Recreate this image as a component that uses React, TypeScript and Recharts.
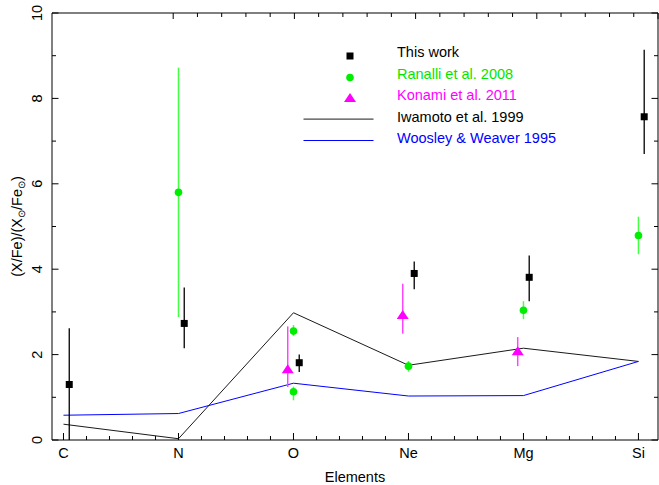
import React from 'react';
import { ComposedChart, Line, Scatter, XAxis, YAxis, ErrorBar, Legend } from 'recharts';

// ---- categories / ticks ----
const elementNames = ['C', 'N', 'O', 'Ne', 'Mg', 'Si'];
const elementPos = [1, 2, 3, 4, 5, 6];
const xTicks = [1, 1.2, 1.4, 1.6, 1.8, 2, 2.2, 2.4, 2.6, 2.8, 3, 3.2, 3.4, 3.6, 3.8, 4, 4.2, 4.4, 4.6, 4.8, 5, 5.2, 5.4, 5.6, 5.8, 6];
const yTicks = [0, 1, 2, 3, 4, 5, 6, 7, 8, 9, 10];
const yMajorTicks = [0, 2, 4, 6, 8, 10];

// ---- This work (black squares) ----
const thisWorkX = [1.05, 2.05, 3.05, 4.05, 5.05, 6.05];
const thisWorkY = [1.3, 2.73, 1.81, 3.9, 3.81, 7.57];
const thisWorkLow = [0, 2.15, 1.59, 3.53, 3.25, 6.7];
const thisWorkHigh = [2.62, 3.57, 2.0, 4.18, 4.32, 9.14];

// ---- Ranalli et al. 2008 (green circles) ----
const ranalliX = [2, 3, 3, 4, 5, 6];
const ranalliY = [5.8, 2.55, 1.13, 1.73, 3.04, 4.79];
const ranalliLow = [2.88, 2.44, 0.93, 1.6, 2.83, 4.35];
const ranalliHigh = [8.72, 2.69, 1.25, 1.85, 3.25, 5.23];

// ---- Konami et al. 2011 (magenta triangles) ----
const konamiX = [2.95, 3.95, 4.95];
const konamiY = [1.67, 2.94, 2.09];
const konamiLow = [1.24, 2.49, 1.73];
const konamiHigh = [2.66, 3.66, 2.41];

// ---- models ----
const iwamoto = [0.37, 0.03, 2.98, 1.75, 2.15, 1.84];
const woosley = [0.58, 0.62, 1.33, 1.03, 1.04, 1.84];

const legendNames = ['This work', 'Ranalli et al. 2008', 'Konami et al. 2011', 'Iwamoto et al. 1999', 'Woosley & Weaver 1995'];
const legendColors = ['#000000', '#00e600', '#ff00ff', '#000000', '#0000ff'];

const FONT = '"Liberation Sans", Arial, Helvetica, sans-serif';

const makePoints = (xs: number[], ys: number[], lo: number[], hi: number[]) =>
  xs.map((x, i) => ({ x, y: ys[i], err: [ys[i] - lo[i], hi[i] - ys[i]] }));

const thisWorkData = makePoints(thisWorkX, thisWorkY, thisWorkLow, thisWorkHigh);
const ranalliData = makePoints(ranalliX, ranalliY, ranalliLow, ranalliHigh);
const konamiData = makePoints(konamiX, konamiY, konamiLow, konamiHigh);
const modelData = elementPos.map((x, i) => ({ x, iwamoto: iwamoto[i], woosley: woosley[i] }));

const isInt = (v: number) => Math.abs(v - Math.round(v)) < 1e-6;

const BottomTick = (props: any) => {
  const { x, y, payload } = props;
  const v = payload.value;
  const major = isInt(v);
  const idx = elementPos.indexOf(Math.round(v));
  return (
    <g>
      <line x1={x} x2={x} y1={y} y2={y - (major ? 7 : 4)} stroke="#000" strokeWidth={1} />
      {major && idx >= 0 && (
        <text x={x} y={y + 18} textAnchor="middle" fontSize={14.5} fontFamily={FONT} fill="#000">
          {elementNames[idx]}
        </text>
      )}
    </g>
  );
};

const TopTick = (props: any) => {
  const { x, y, payload } = props;
  const major = isInt(payload.value);
  return <line x1={x} x2={x} y1={y} y2={y + (major ? 6 : 4)} stroke="#000" strokeWidth={1} />;
};

const LeftTick = (props: any) => {
  const { x, y, payload } = props;
  const v = payload.value;
  const major = yMajorTicks.indexOf(v) >= 0;
  const lx = x - 15;
  return (
    <g>
      <line x1={x} x2={x + (major ? 6.5 : 4)} y1={y} y2={y} stroke="#000" strokeWidth={1} />
      {major && (
        <text
          transform={`rotate(-90 ${lx} ${y})`}
          x={lx}
          y={y}
          textAnchor="middle"
          dominantBaseline="central"
          fontSize={14.5}
          fontFamily={FONT}
          fill="#000"
        >
          {v}
        </text>
      )}
    </g>
  );
};

const RightTick = (props: any) => {
  const { x, y, payload } = props;
  const major = yMajorTicks.indexOf(payload.value) >= 0;
  return <line x1={x} x2={x - (major ? 6.5 : 4)} y1={y} y2={y} stroke="#000" strokeWidth={1} />;
};

const YLabel = (props: any) => {
  const vb = props.viewBox || { x: 0, y: 13, width: 52, height: 427 };
  const cx = 17;
  const cy = vb.y + vb.height / 2;
  return (
    <text
      transform={`rotate(-90 ${cx} ${cy})`}
      x={cx}
      y={cy}
      textAnchor="middle"
      dominantBaseline="central"
      fontSize={14.5}
      fontFamily={FONT}
      fill="#000"
    >
      (X/Fe)/(X
      <tspan fontSize={10} dy={4}>⊙</tspan>
      <tspan dy={-4}>/Fe</tspan>
      <tspan fontSize={10} dy={4}>⊙</tspan>
      <tspan dy={-4}>)</tspan>
    </text>
  );
};

const SquareShape = (props: any) => {
  const { cx, cy } = props;
  if (cx == null || cy == null) return null;
  return <rect x={cx - 3.5} y={cy - 3.5} width={7} height={7} fill="#000" />;
};

const CircleShape = (props: any) => {
  const { cx, cy } = props;
  if (cx == null || cy == null) return null;
  return <circle cx={cx} cy={cy} r={3.8} fill="#00ee00" />;
};

const TriangleShape = (props: any) => {
  const { cx, cy } = props;
  if (cx == null || cy == null) return null;
  return <polygon points={`${cx - 6},${cy + 4.5} ${cx + 6},${cy + 4.5} ${cx},${cy - 4.5}`} fill="#ff00ff" />;
};

const LegendBox = () => {
  const baselines = [19, 40.5, 62, 83.5, 105];
  const mx = 50;
  return (
    <svg width={300} height={115} style={{ display: 'block' }}>
      <rect x={mx - 3.5} y={baselines[0] - 4.5} width={7} height={7} fill="#000" />
      <circle cx={mx} cy={baselines[1] - 1} r={3.8} fill="#00ee00" />
      <polygon
        points={`${mx - 6},${baselines[2] + 2} ${mx + 6},${baselines[2] + 2} ${mx},${baselines[2] - 7}`}
        fill="#ff00ff"
      />
      <line x1={3.5} x2={73.5} y1={baselines[3] - 2.4} y2={baselines[3] - 2.4} stroke="#1a1a1a" strokeWidth={1} />
      <line x1={3.5} x2={73.5} y1={baselines[4] - 2.5} y2={baselines[4] - 2.5} stroke="#0000ff" strokeWidth={1} />
      {legendNames.map((n, i) => (
        <text key={n} x={97} y={baselines[i]} fontSize={14.5} fontFamily={FONT} fill={legendColors[i]}>
          {n}
        </text>
      ))}
    </svg>
  );
};

export default function App() {
  return (
    <div style={{ position: 'absolute', left: 0, top: 0, width: 659, height: 485, background: '#fff' }}>
      <ComposedChart width={659} height={485} data={modelData} margin={{ top: 0, right: 0, bottom: 0, left: 0 }}>
        <XAxis
          dataKey="x"
          type="number"
          domain={[0.9, 6.17]}
          allowDataOverflow
          ticks={xTicks}
          interval={0}
          tick={<BottomTick />}
          tickLine={false}
          tickSize={0}
          tickMargin={0}
          axisLine={{ stroke: '#000', strokeWidth: 1 }}
          height={45}
          label={{ value: 'Elements', position: 'insideBottom', offset: 3, fontSize: 14.5, fontFamily: FONT, fill: '#000' }}
        />
        <XAxis
          xAxisId="top"
          orientation="top"
          type="number"
          domain={[0.9, 6.17]}
          allowDataOverflow
          ticks={xTicks}
          interval={0}
          tick={<TopTick />}
          tickLine={false}
          tickSize={0}
          tickMargin={0}
          axisLine={{ stroke: '#000', strokeWidth: 1 }}
          height={13}
        />
        <YAxis
          type="number"
          domain={[0, 10]}
          allowDataOverflow
          ticks={yTicks}
          interval={0}
          tick={<LeftTick />}
          tickLine={false}
          tickSize={0}
          tickMargin={0}
          axisLine={{ stroke: '#000', strokeWidth: 1 }}
          width={52}
          label={(p: any) => <YLabel {...p} />}
        />
        <YAxis
          yAxisId="right"
          orientation="right"
          type="number"
          domain={[0, 10]}
          allowDataOverflow
          ticks={yTicks}
          interval={0}
          tick={<RightTick />}
          tickLine={false}
          tickSize={0}
          tickMargin={0}
          axisLine={{ stroke: '#000', strokeWidth: 1 }}
          width={1}
        />
        <Line
          dataKey="iwamoto"
          stroke="#1a1a1a"
          strokeWidth={1}
          dot={false}
          activeDot={false}
          type="linear"
          isAnimationActive={false}
          legendType="none"
        />
        <Line
          dataKey="woosley"
          stroke="#0000ff"
          strokeWidth={1}
          dot={false}
          activeDot={false}
          type="linear"
          isAnimationActive={false}
          legendType="none"
        />
        <Scatter data={konamiData} dataKey="y" shape={<TriangleShape />} isAnimationActive={false} legendType="none">
          <ErrorBar dataKey="err" direction="y" width={0} stroke="#ff44ff" strokeWidth={1.5} isAnimationActive={false} />
        </Scatter>
        <Scatter data={ranalliData} dataKey="y" shape={<CircleShape />} isAnimationActive={false} legendType="none">
          <ErrorBar dataKey="err" direction="y" width={0} stroke="#44ff44" strokeWidth={1.5} isAnimationActive={false} />
        </Scatter>
        <Scatter data={thisWorkData} dataKey="y" shape={<SquareShape />} isAnimationActive={false} legendType="none">
          <ErrorBar dataKey="err" direction="y" width={0} stroke="#000" strokeWidth={1.3} isAnimationActive={false} />
        </Scatter>
        <Legend
          layout="vertical"
          align="center"
          verticalAlign="middle"
          wrapperStyle={{ left: 300, top: 38, width: 300, height: 115 }}
          content={() => <LegendBox />}
        />
      </ComposedChart>
    </div>
  );
}
